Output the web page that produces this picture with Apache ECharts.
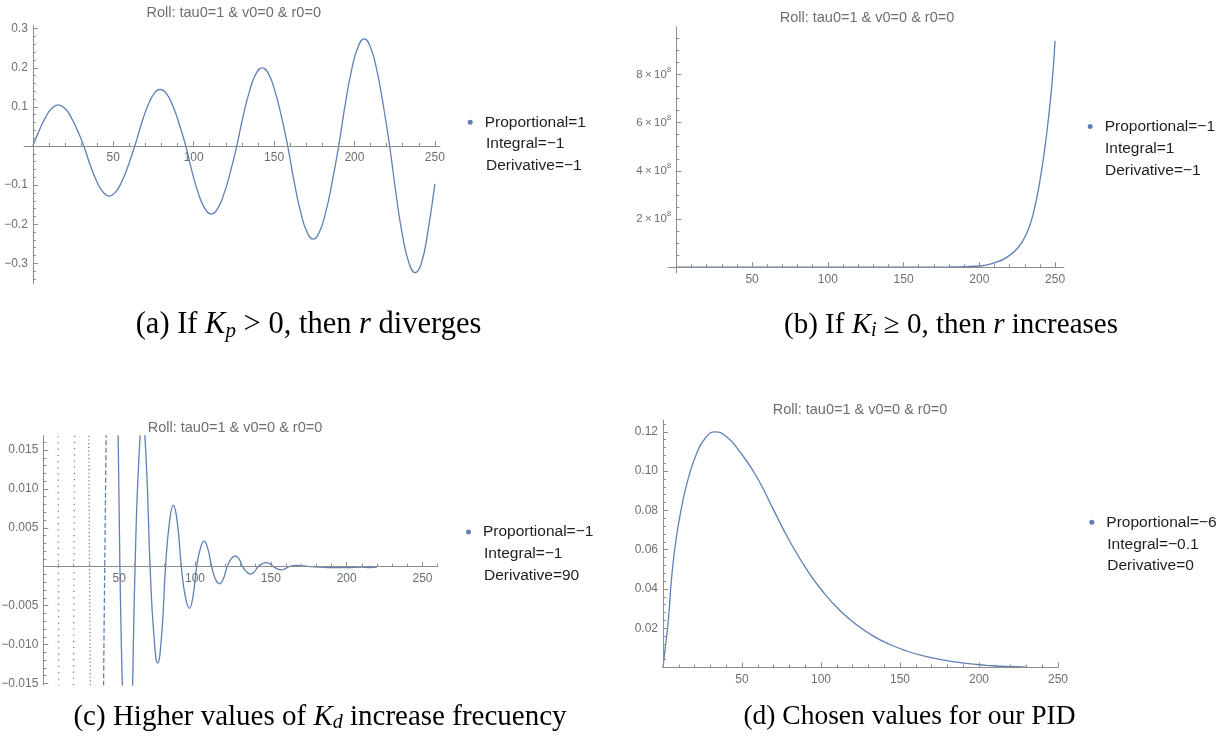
<!DOCTYPE html>
<html>
<head>
<meta charset="utf-8">
<title>Roll PID responses</title>
<script src="https://cdn.jsdelivr.net/npm/echarts@6/dist/echarts.min.js"></script>
<style>
html,body{margin:0;padding:0;background:#fff;}
#main{width:1225px;height:744px;}
</style>
</head>
<body>
<div id="main"></div>
<script>
// (a) Kp=1 Ki=-1 Kd=-1 : growing oscillation
var aX = [0,4,8,12,15.9,19.7,23.7,27.7, 31.7,35.7,39.7,43.7,47.5,51.4,55.4,59.4,
  63.4,67.4,71.4,75.4,79.3,83.1,87.1,91.1, 95.1,99.1,103.1,107.1,111,114.8,118.8,122.8,
  126.8,130.8,134.8,138.8,142.7,146.5,150.5,154.5, 158.5,162.5,166.5,170.5,174.4,178.2,182.2,186.2,
  190.2,194.2,198.2,202.2,206.1,209.9,213.9,217.9, 221.9,225.9,229.9,233.9,237.8,241.6,245.6,250];
var aY = [0,0.040,0.074,0.097,0.105,0.097,0.074,0.040, 0,-0.049,-0.090,-0.118,-0.128,-0.118,-0.090,-0.049,
  0,0.055,0.102,0.134,0.145,0.134,0.102,0.055, 0,-0.067,-0.123,-0.161,-0.174,-0.161,-0.123,-0.067,
  0,0.077,0.141,0.185,0.200,0.185,0.141,0.077, 0,-0.091,-0.168,-0.220,-0.238,-0.220,-0.168,-0.091,
  0,0.105,0.194,0.253,0.274,0.253,0.194,0.105, 0,-0.124,-0.229,-0.299,-0.324,-0.300,-0.220,-0.097];

// (b) Kp=-1 Ki=1 Kd=-1 : blows up
var bX = [0,50,100,150,170,180,190,200.5,210.4,218.1,225.8,231.3,235.7,240.1,244.5,247.8,250];
var bY = [0,0,0,1e5,6e5,1.2e6,2.5e6,5e6,1.9e7,4.1e7,8.3e7,1.41e8,2.24e8,3.62e8,5.56e8,7.49e8,9.4e8];

// (c) Kp=-1 Ki=-1 Kd=90 : fast damped oscillation (early swings leave the plot range)
var cX = [0,2.5,5, 7.5,10,12.5,15, 17.6,20.25,22.9,25.5, 28,30.5,33,35.5, 38,40.5,43,45.5,
  48,50.5,53,55.5, 58,60.5,62.9,65.4, 67.9,70.4,72.9,75.4, 78,80.6,83.1,85.7, 88.4,91,93.6,96.3,
  98.7,101.1,103.5,106, 108.5,111,113.5,116, 118.6,121.2,123.8,126.4, 129,131.4,134,136.5,
  139,141.6,144.2,146.8, 149.3,151.8,154.3,156.8, 159.3,162,167,172,177,182,190,200,210,215,220];
var cY = [0,0.2,0.3, 0.212,0,-0.141,-0.2, -0.141,0,0.085,0.12, 0.085,0,-0.053,-0.075, -0.053,0,0.034,0.048,
  0.034,0,-0.021,-0.03, -0.021,0,0.0134,0.019, 0.0134,0,-0.0088,-0.0124, -0.0088,0,0.0056,0.0079,
  0.0056,0,-0.0038,-0.00535, -0.0038,0,0.0023,0.0033, 0.0023,0,-0.0016,-0.0022, -0.0016,0,0.001,0.00138,
  0.001,0,-0.00066,-0.00094, -0.00066,0,0.00037,0.00052, 0.00037,0,-0.00028,-0.0004,
  -0.00028,0,0.00018,0.0001,0,-0.00005,-0.0001,-0.0001,-0.00005,-0.0001,-0.00005];

// (d) Kp=-6 Ki=-0.1 Kd=0 : chosen
var dX = [0,1,3.4,5.5,8.2,11.8,16,21.3,26.6,32.9,40.3,48.7,59.3,69.8,80.4,90.9,101.5,112,
  122.6,133.1,143.7,154.2,164.8,175.3,185.9,196.4,207,217.5,230];
var dY = [0,0.0072,0.0242,0.0462,0.0649,0.0818,0.0963,0.109,0.1166,0.12,0.1175,0.1098,0.0971,
  0.0805,0.0640,0.0500,0.0383,0.0290,0.0217,0.0160,0.0117,0.0084,0.0059,0.0041,0.0027,0.0017,
  0.0010,0.0005,0.0002];

var aGains = ['Proportional=1', 'Integral=\u22121', 'Derivative=\u22121'];
var bGains = ['Proportional=\u22121', 'Integral=1', 'Derivative=\u22121'];
var cGains = ['Proportional=\u22121', 'Integral=\u22121', 'Derivative=90'];
var dGains = ['Proportional=\u22126', 'Integral=\u22120.1', 'Derivative=0'];

var xTicks = [50, 100, 150, 200, 250];
var aYTicks = [-0.3, -0.2, -0.1, 0.1, 0.2, 0.3];
var bYTicks = [2e8, 4e8, 6e8, 8e8];
var cYTicks = [-0.015, -0.01, -0.005, 0.005, 0.01, 0.015];
var dYTicks = [0.02, 0.04, 0.06, 0.08, 0.10, 0.12];

var plotTitle = 'Roll: tau0=1 & v0=0 & r0=0';

var AXIS = '#8c8c8c', LABEL = '#6e6e6e', BLUE = '#5e81b5', INK = '#1e1e1e';
var SANS = '"Liberation Sans", Arial, sans-serif';
var SERIF = '"Liberation Serif", "Times New Roman", serif';

// plot boxes and visible ranges of the four panels
var boxes = [
	{left: 24, top: 26, width: 416, height: 258},
	{left: 668, top: 27, width: 396, height: 246},
	{left: 43.3, top: 436, width: 394.4, height: 249},
	{left: 663, top: 420, width: 395, height: 247.5}
];
var xRange = [[-5.5, 253.2], [-5.48, 255.9], [0, 260], [0, 250]];
var yRange = [[-0.3529, 0.3069], [-0.24e8, 9.967e8], [-0.0152, 0.0168], [0, 0.126]];

function zip(xs, ys) {
	var out = [];
	for (var i = 0; i < xs.length; i++) out.push([xs[i], ys[i]]);
	return out;
}
function between(xs, ys, lo, hi) {
	return zip(xs, ys).filter(function(p) { return p[0] >= lo && p[0] <= hi; });
}
// minor tick spots, skipping zero and the majors
function steps(lo, hi, step, skip) {
	var out = [];
	for (var k = Math.ceil(lo / step - 1e-9); k * step <= hi + 1e-12; k++) {
		var v = +(k * step).toPrecision(10);
		if (v === 0) continue;
		if (skip && Math.abs(v / skip - Math.round(v / skip)) < 1e-6) continue;
		out.push(v);
	}
	return out;
}
function minus(s) { return String(s).replace('-', '\u2212'); }

// axes cross at zero like Mathematica: shift each one off the grid edge by offset
function axes(dim, g, majors, minorStep, majorStep, fmt, rich) {
	var r = dim === 'x' ? xRange[g] : yRange[g];
	var o = dim === 'x' ? yRange[g] : xRange[g];
	var span = dim === 'x' ? boxes[g].height : boxes[g].width;
	var offset = -(0 - o[0]) / (o[1] - o[0]) * span;
	var common = {
		type: 'value', gridIndex: g, min: r[0], max: r[1], z: 5, offset: offset,
		position: dim === 'x' ? 'bottom' : 'left',
		splitLine: {show: false}
	};
	var major = Object.assign({}, common, {
		axisLine: {onZero: false, lineStyle: {color: AXIS, width: 1}},
		axisTick: {inside: true, length: 5, customValues: majors, lineStyle: {color: AXIS}},
		axisLabel: {customValues: majors, formatter: fmt, color: LABEL, fontSize: 12,
			fontFamily: SANS, margin: dim === 'x' ? 6 : 5, rich: rich}
	});
	var minor = Object.assign({}, common, {
		axisLine: {onZero: false, lineStyle: {color: AXIS, opacity: 0}},
		axisTick: {inside: true, length: 3, customValues: steps(r[0], r[1], minorStep, majorStep),
			lineStyle: {color: AXIS}},
		axisLabel: {show: false}
	});
	return [major, minor];
}

function line(name, g, data, dash) {
	return {
		type: 'line', name: name, xAxisIndex: 2 * g, yAxisIndex: 2 * g, z: 1,
		data: data, showSymbol: false, smooth: 0.5, clip: true, silent: true,
		lineStyle: {color: BLUE, width: 1.3, type: dash || 'solid'},
		itemStyle: {color: BLUE}
	};
}

function legendAt(name, dotX, lineY) {
	return {
		data: [name], left: dotX - 3, top: lineY - 8, padding: 0,
		icon: 'circle', itemWidth: 5, itemHeight: 5, selectedMode: false,
		textStyle: {color: INK, fontSize: 15.5, fontFamily: SANS, lineHeight: 16, padding: [0, 0, 0, 7]}
	};
}
function label(text, x, y) {
	return {type: 'text', x: x, y: y, silent: true,
		style: {text: text, fill: INK, fontSize: 15.5, fontFamily: SANS, verticalAlign: 'middle'}};
}
function heading(x, y) {
	return {type: 'text', x: x, y: y, silent: true,
		style: {text: plotTitle, fill: LABEL, fontSize: 14.5, fontFamily: SANS,
			align: 'center', verticalAlign: 'middle'}};
}
function caption(text, x, y, size) {
	return {type: 'text', x: x, y: y, silent: true,
		style: {text: text, fill: '#000', fontSize: size, fontFamily: SERIF, lineHeight: size + 3,
			align: 'center', verticalAlign: 'middle',
			rich: {
				i: {fontStyle: 'italic', fontSize: size, fontFamily: SERIF, lineHeight: size + 3},
				s: {fontStyle: 'italic', fontSize: Math.round(size * 0.69), fontFamily: SERIF,
					verticalAlign: 'bottom', lineHeight: Math.round(size * 0.66)}
			}}};
}

var f1 = function(v) { return minus(v.toFixed(1)); };
var f2 = function(v) { return minus(v.toFixed(2)); };
var f3 = function(v) { return minus(v.toFixed(3)); };
var fx = function(v) { return String(v); };
var fsci = function(v) { return '{m|' + Math.round(v / 1e8) + '\u2009\u00d7\u200910}{e|8}'; };
var sciRich = {
	m: {fontSize: 11.5, color: LABEL, fontFamily: SANS, lineHeight: 18},
	e: {fontSize: 8, color: LABEL, fontFamily: SANS, verticalAlign: 'top', lineHeight: 10}
};

var xs = [], ys = [];
[
	axes('x', 0, xTicks, 10, 50, fx),
	axes('x', 1, xTicks, 10, 50, fx),
	axes('x', 2, xTicks, 10, 50, fx),
	axes('x', 3, xTicks, 10, 50, fx)
].forEach(function(p) { xs.push(p[0], p[1]); });
[
	axes('y', 0, aYTicks, 0.02, 0.1, f1),
	axes('y', 1, bYTicks, 0.5e8, 2e8, fsci, sciRich),
	axes('y', 2, cYTicks, 0.001, 0.005, f3),
	axes('y', 3, dYTicks, 0.004, 0.02, f2)
].forEach(function(p) { ys.push(p[0], p[1]); });

var myChart = echarts.init(document.getElementById('main'));
var option = {
	animation: false,
	backgroundColor: '#fff',
	grid: boxes.map(function(b) {
		return {left: b.left, top: b.top, width: b.width, height: b.height,
			containLabel: false, outerBoundsMode: 'none'};
	}),
	xAxis: xs,
	yAxis: ys,
	legend: [
		legendAt(aGains[0], 470.7, 122.3),
		legendAt(bGains[0], 1090.7, 126.5),
		legendAt(cGains[0], 469, 532),
		legendAt(dGains[0], 1092.3, 522.3)
	],
	graphic: [
		heading(233.7, 12.5), heading(867, 18), heading(235, 428), heading(860, 410.3),
		label(aGains[1], 486, 143.8), label(aGains[2], 486, 165.7),
		label(bGains[1], 1105, 148.5), label(bGains[2], 1105, 170.7),
		label(cGains[1], 484, 554), label(cGains[2], 484, 576),
		label(dGains[1], 1107.3, 544.3), label(dGains[2], 1107.3, 566),
		caption('(a) If {i|K}{s|p} > 0, then {i|r} diverges', 308.5, 325, 30.5),
		caption('(b) If {i|K}{s|i} \u2265 0, then {i|r} increases', 951, 325, 29),
		caption('(c) Higher values of {i|K}{s|d} increase frecuency', 320, 717, 29),
		caption('(d) Chosen values for our PID', 909.5, 717, 27.5)
	],
	series: [
		line(aGains[0], 0, zip(aX, aY)),
		line(bGains[0], 1, zip(bX, bY)),
		line(cGains[0], 2, between(cX, cY, 45.5, 260)),
		line('c-early', 2, between(cX, cY, 0, 25.5), [1.2, 5]),
		line('c-mid', 2, between(cX, cY, 25.5, 35.5), [1.2, 2.5]),
		line('c-late', 2, between(cX, cY, 35.5, 45.5), [5, 2.5]),
		line(dGains[0], 3, zip(dX, dY))
	]
};
myChart.setOption(option);
</script>
</body>
</html>
